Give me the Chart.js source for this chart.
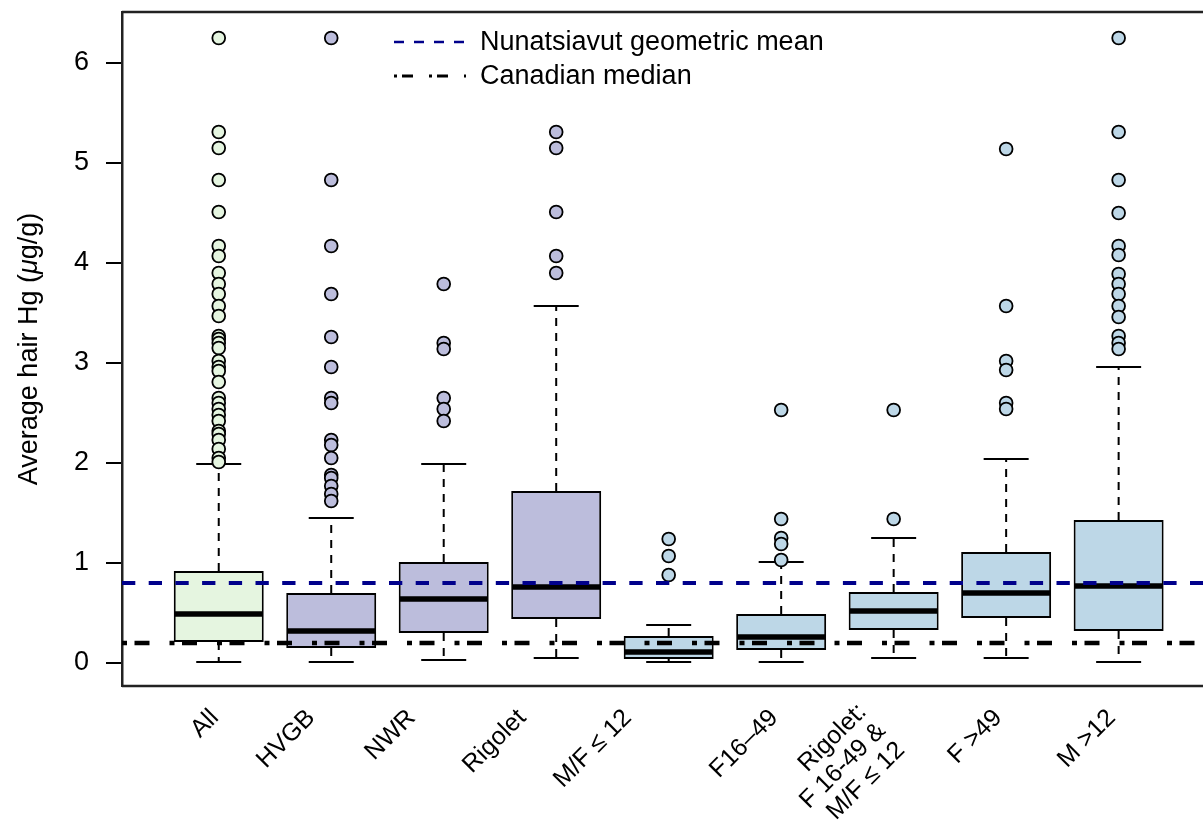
<!DOCTYPE html>
<html>
<head>
<meta charset="utf-8">
<script src="https://cdn.jsdelivr.net/npm/chart.js@4.4.1/dist/chart.umd.min.js"></script>
<style>
html,body{margin:0;padding:0;background:#ffffff;overflow:hidden;}
#wrap{width:1203px;height:827px;position:relative;}
</style>
</head>
<body>
<div id="wrap"><canvas id="c" width="1203" height="827"></canvas></div>
<script>
// ---------------- data ----------------
const categories = ["All", "HVGB", "NWR", "Rigolet", "M/F \u2264 12", "F16\u201349",
  ["Rigolet:", "F 16-49 &", "M/F \u2264 12"], "F >49", "M >12"];
const whiskerLow  = [0.01, 0.01, 0.03, 0.05, 0.01, 0.01, 0.05, 0.05, 0.01];
const q1          = [0.21, 0.15, 0.30, 0.44, 0.04, 0.13, 0.33, 0.45, 0.32];
const medians     = [0.49, 0.32, 0.64, 0.76, 0.11, 0.26, 0.52, 0.70, 0.77];
const q3          = [0.92, 0.70, 1.01, 1.72, 0.27, 0.49, 0.71, 1.11, 1.43];
const whiskerHigh = [1.99, 1.45, 1.99, 3.57, 0.38, 1.01, 1.25, 2.04, 2.96];
const outliers = [
  [6.25, 5.31, 5.15, 4.83, 4.51, 4.17, 4.07, 3.90, 3.79, 3.69, 3.57, 3.47, 3.27, 3.24, 3.20, 3.15,
   3.02, 2.96, 2.92, 2.81, 2.65, 2.60, 2.54, 2.48, 2.42, 2.32, 2.29, 2.23, 2.14, 2.05, 2.01],
  [6.25, 4.83, 4.17, 3.69, 3.26, 2.96, 2.65, 2.60, 2.23, 2.18, 2.05, 1.88, 1.85, 1.77, 1.69, 1.62],
  [3.79, 3.20, 3.14, 2.65, 2.54, 2.42],
  [5.31, 5.15, 4.51, 4.07, 3.90],
  [1.24, 1.07, 0.88],
  [2.53, 1.44, 1.25, 1.19, 1.03],
  [2.53, 1.44],
  [5.14, 3.57, 3.02, 2.93, 2.60, 2.54],
  [6.25, 5.31, 4.83, 4.50, 4.17, 4.08, 3.89, 3.79, 3.69, 3.57, 3.46, 3.27, 3.20, 3.14]
];
const yTickValues = [0, 1, 2, 3, 4, 5, 6];
const referenceLines = [
  {label: "Nunatsiavut geometric mean", value: 0.80},
  {label: "Canadian median", value: 0.20}
];

// ---------------- styles ----------------
const FONT = '"Liberation Sans", Arial, Helvetica, sans-serif';
const GREEN = "#e5f5e0", PURPLE = "#bcbddc", BLUE = "#bdd7e7";
const boxFill = [GREEN, PURPLE, PURPLE, PURPLE, BLUE, BLUE, BLUE, BLUE, BLUE];
const refStyles = [
  {color: "#00008b", width: 4, dash: [13.3, 13.4], legendWidth: 2.7, legendDash: [10, 10]},
  {color: "#000000", width: 4.5, dash: [5, 7.5, 15, 20], legendWidth: 3, legendDash: [3, 5, 11, 16]}
];
// label nudges (px) for the rotated category labels
const labelNudge = [
  {dx: -4, dy: 0}, {dx: -20, dy: 0}, {dx: -32, dy: 0}, {dx: -34, dy: 0}, {dx: -41, dy: 0},
  {dx: -7, dy: 0}, {dx: -31, dy: -6}, {dx: -8, dy: 0}, {dx: -7, dy: 0}
];

// ---------------- build datasets ----------------
const positions = categories.map((_, i) => i + 1);
const boxData = positions.map((p, i) => ({x: p, y: [q1[i], q3[i]]}));
const outlierPoints = [];
const outlierColors = [];
outliers.forEach((arr, i) => arr.forEach(v => {
  outlierPoints.push({x: positions[i], y: v});
  outlierColors.push(boxFill[i]);
}));

const boxplotPlugin = {
  id: "boxplotExtras",
  afterDatasetDraw(chart, args) {
    if (args.meta.type !== "bar") return;
    const ctx = chart.ctx;
    const xs = chart.scales.x, ys = chart.scales.y;
    ctx.save();
    ctx.strokeStyle = "#000";
    positions.forEach((p, i) => {
      const cx = xs.getPixelForValue(p);
      const bw = args.meta.data[i].width;
      // whiskers (dashed)
      ctx.lineWidth = 2;
      ctx.setLineDash([8, 7]);
      ctx.beginPath();
      ctx.moveTo(cx, ys.getPixelForValue(q3[i]));
      ctx.lineTo(cx, ys.getPixelForValue(whiskerHigh[i]));
      ctx.moveTo(cx, ys.getPixelForValue(q1[i]));
      ctx.lineTo(cx, ys.getPixelForValue(whiskerLow[i]));
      ctx.stroke();
      // caps
      ctx.setLineDash([]);
      ctx.beginPath();
      [whiskerHigh[i], whiskerLow[i]].forEach(v => {
        const py = ys.getPixelForValue(v);
        ctx.moveTo(cx - bw / 4, py);
        ctx.lineTo(cx + bw / 4, py);
      });
      ctx.stroke();
      // median
      ctx.lineWidth = 5.5;
      ctx.beginPath();
      const my = ys.getPixelForValue(medians[i]);
      ctx.moveTo(cx - bw / 2 + 1, my);
      ctx.lineTo(cx + bw / 2 - 1, my);
      ctx.stroke();
    });
    ctx.restore();
  },
  afterDatasetsDraw(chart) {
    const ctx = chart.ctx;
    const area = chart.chartArea;
    const xs = chart.scales.x, ys = chart.scales.y;
    // reference lines
    ctx.save();
    ctx.beginPath();
    ctx.rect(area.left, area.top, area.right - area.left, area.bottom - area.top);
    ctx.clip();
    referenceLines.forEach((r, k) => {
      const st = refStyles[k];
      const py = ys.getPixelForValue(r.value);
      ctx.strokeStyle = st.color;
      ctx.lineWidth = st.width;
      ctx.setLineDash(st.dash);
      ctx.lineDashOffset = 0;
      ctx.beginPath();
      ctx.moveTo(area.left, py);
      ctx.lineTo(area.right, py);
      ctx.stroke();
    });
    ctx.restore();

    // frame (top, bottom)
    ctx.save();
    ctx.strokeStyle = "#222";
    ctx.lineWidth = 2.5;
    ctx.beginPath();
    ctx.moveTo(area.left, area.top);
    ctx.lineTo(area.right, area.top);
    ctx.moveTo(area.left, area.bottom);
    ctx.lineTo(area.right, area.bottom);
    ctx.stroke();
    ctx.restore();

    // legend
    ctx.save();
    ctx.font = "27px " + FONT;
    ctx.fillStyle = "#000";
    ctx.textBaseline = "middle";
    ctx.textAlign = "left";
    referenceLines.forEach((r, k) => {
      const st = refStyles[k];
      const ly = area.top + 30 + k * 34;
      const lx0 = area.left + 272, lx1 = area.left + 344;
      ctx.strokeStyle = st.color;
      ctx.lineWidth = st.legendWidth;
      ctx.setLineDash(st.legendDash);
      ctx.beginPath();
      ctx.moveTo(lx0, ly);
      ctx.lineTo(lx1, ly);
      ctx.stroke();
      ctx.setLineDash([]);
      ctx.fillText(r.label, area.left + 358, ly + 1);
    });
    ctx.restore();

    // category labels (rotated 45 degrees)
    ctx.save();
    ctx.font = "25px " + FONT;
    ctx.fillStyle = "#000";
    ctx.textAlign = "right";
    ctx.textBaseline = "middle";
    categories.forEach((lab, i) => {
      const lines = Array.isArray(lab) ? lab : [lab];
      const ax = xs.getPixelForValue(positions[i]) + labelNudge[i].dx;
      const ay = area.bottom + 28 + labelNudge[i].dy;
      ctx.save();
      ctx.translate(ax, ay);
      ctx.rotate(-Math.PI / 4);
      lines.forEach((t, j) => ctx.fillText(t, 0, j * 27));
      ctx.restore();
    });
    ctx.restore();

    // y axis title with italic mu
    ctx.save();
    const parts = [
      {t: "Average hair Hg (", f: "27px " + FONT},
      {t: "\u03bc", f: "italic 27px " + FONT},
      {t: "g/g)", f: "27px " + FONT}
    ];
    let total = 0;
    parts.forEach(pt => { ctx.font = pt.f; pt.w = ctx.measureText(pt.t).width; total += pt.w; });
    ctx.translate(37, (area.top + area.bottom) / 2);
    ctx.rotate(-Math.PI / 2);
    ctx.fillStyle = "#000";
    ctx.textBaseline = "alphabetic";
    ctx.textAlign = "left";
    let cxp = -total / 2;
    parts.forEach(pt => { ctx.font = pt.f; ctx.fillText(pt.t, cxp, 0); cxp += pt.w; });
    ctx.restore();
  }
};

new Chart(document.getElementById("c"), {
  type: "bar",
  data: {
    datasets: [
      {
        type: "bar",
        data: boxData,
        backgroundColor: boxFill,
        borderColor: "#000",
        borderWidth: 2,
        borderSkipped: false,
        barPercentage: 0.8,
        categoryPercentage: 1,
        order: 2
      },
      {
        type: "scatter",
        data: outlierPoints,
        backgroundColor: outlierColors,
        borderColor: "#000",
        borderWidth: 1.8,
        pointRadius: 6.4,
        order: 1
      }
    ]
  },
  options: {
    responsive: false,
    animation: false,
    devicePixelRatio: 1,
    events: [],
    layout: {autoPadding: false, padding: {left: 0, top: 12, right: 0, bottom: 141}},
    plugins: {legend: {display: false}, tooltip: {enabled: false}},
    scales: {
      x: {
        type: "linear", min: 0.14, max: 9.75, display: false, offset: false,
        ticks: {stepSize: 1, includeBounds: false}
      },
      y: {
        type: "linear", min: -0.23, max: 6.51,
        afterFit(s) { s.width = 122; s.paddingTop = 0; s.paddingBottom = 0; },
        afterBuildTicks(s) { s.ticks = yTickValues.map(v => ({value: v})); },
        ticks: {color: "#000", font: {family: FONT, size: 27}, padding: 17},
        grid: {drawOnChartArea: false, drawTicks: true, tickLength: 16, color: "#000", lineWidth: 2},
        border: {display: true, color: "#222", width: 2.5}
      }
    }
  },
  plugins: [boxplotPlugin]
});
</script>
</body>
</html>
